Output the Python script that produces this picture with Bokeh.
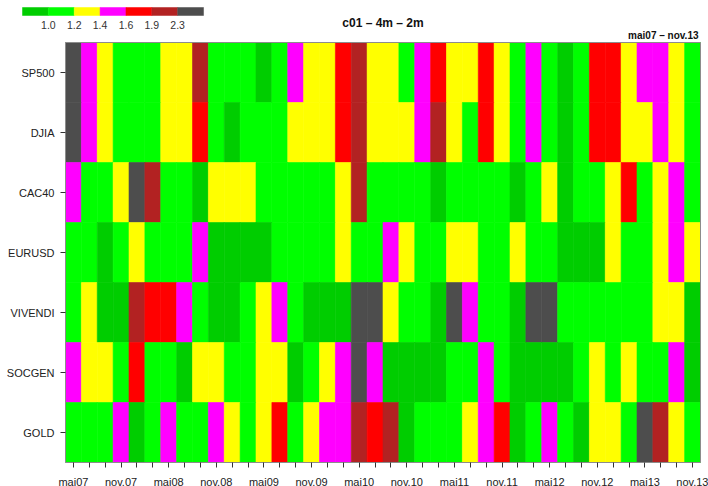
import numpy as np
from bokeh.plotting import figure
from bokeh.models import Range1d, FixedTicker, ColumnDataSource
from bokeh.core.properties import value
from bokeh.embed import file_html
from bokeh.resources import INLINE

# ---------------- data ----------------
title_text = "c01 \u2013 4m \u2013 2m"
period_text = "mai07 \u2013 nov.13"

rows = ["SP500", "DJIA", "CAC40", "EURUSD", "VIVENDI", "SOCGEN", "GOLD"]

tick_labels = ["mai07", "nov.07", "mai08", "nov.08", "mai09", "nov.09", "mai10",
               "nov.10", "mai11", "nov.11", "mai12", "nov.12", "mai13", "nov.13"]

breaks = [1.0, 1.2, 1.4, 1.6, 1.9, 2.3]
break_labels = ["1.0", "1.2", "1.4", "1.6", "1.9", "2.3"]
palette = ["#00CD00", "#00FF00", "#FFFF00", "#FF00FF", "#FF0000", "#B22222", "#4D4D4D"]

SP500 = [2.6, 1.5, 1.3, 1.1, 1.1, 1.1, 1.3, 1.3, 2.1, 1.1, 1.1, 1.1, 0.9, 1.1, 1.5, 1.3, 1.3, 1.75, 2.1, 1.3,
         1.3, 1.1, 1.5, 1.75, 1.3, 1.3, 1.75, 1.3, 1.1, 1.5, 1.1, 0.9, 1.1, 1.75, 1.75, 1.3, 1.5, 1.5, 1.3, 1.1]
DJIA = [2.6, 1.5, 1.3, 1.1, 1.1, 1.1, 1.3, 1.3, 1.75, 1.1, 0.9, 1.1, 1.1, 1.1, 1.3, 1.3, 1.3, 1.75, 2.1, 1.3,
        1.3, 1.3, 1.5, 2.1, 1.3, 1.1, 1.75, 1.3, 1.1, 1.5, 1.1, 0.9, 1.1, 1.75, 1.75, 1.3, 1.3, 1.5, 1.3, 1.1]
CAC40 = [1.5, 1.1, 1.1, 1.3, 2.6, 2.1, 1.1, 1.1, 0.9, 1.3, 1.3, 1.3, 1.1, 1.1, 1.1, 1.1, 1.1, 1.3, 2.1, 1.1,
         1.1, 1.1, 1.1, 0.9, 1.1, 1.1, 1.1, 1.1, 0.9, 1.1, 1.3, 0.9, 1.1, 1.1, 1.3, 1.75, 1.1, 1.3, 1.5, 1.1]
EURUSD = [1.1, 1.1, 0.9, 1.1, 1.3, 1.1, 1.1, 1.1, 1.5, 0.9, 0.9, 0.9, 0.9, 1.1, 1.1, 1.1, 1.1, 1.3, 1.1, 1.1,
          1.5, 1.3, 1.1, 1.1, 1.3, 1.3, 1.1, 1.1, 1.3, 1.1, 1.1, 0.9, 0.9, 0.9, 1.3, 1.1, 1.1, 1.3, 1.5, 1.3]
VIVENDI = [1.1, 1.3, 0.9, 0.9, 2.1, 1.75, 1.75, 1.5, 1.1, 0.9, 0.9, 1.1, 1.3, 1.5, 1.1, 0.9, 0.9, 0.9, 2.6, 2.6,
           1.3, 1.1, 1.1, 0.9, 2.6, 1.5, 1.1, 1.1, 0.9, 2.6, 2.6, 1.1, 1.1, 1.1, 1.1, 1.1, 1.1, 1.3, 1.3, 0.9]
SOCGEN = [1.5, 1.3, 1.3, 1.1, 1.75, 1.1, 1.1, 0.9, 1.3, 1.3, 1.1, 1.1, 1.3, 1.3, 0.9, 1.1, 1.3, 1.5, 2.6, 1.5,
          0.9, 0.9, 0.9, 0.9, 1.1, 1.1, 1.5, 1.1, 0.9, 0.9, 0.9, 0.9, 1.1, 1.3, 1.1, 1.3, 1.1, 1.1, 1.5, 0.9]
GOLD = [1.1, 1.1, 1.1, 1.5, 0.9, 1.1, 1.5, 1.1, 1.1, 1.5, 1.3, 1.1, 1.3, 1.75, 1.1, 1.3, 1.5, 1.5, 2.1, 1.75,
        2.1, 0.9, 1.1, 1.1, 1.1, 1.3, 1.5, 1.75, 0.9, 1.1, 1.5, 1.1, 0.9, 1.3, 1.3, 1.1, 2.6, 2.1, 1.3, 1.1]

series = {"SP500": SP500, "DJIA": DJIA, "CAC40": CAC40, "EURUSD": EURUSD,
          "VIVENDI": VIVENDI, "SOCGEN": SOCGEN, "GOLD": GOLD}

n_cols = len(SP500)
n_rows = len(rows)
for k, v in series.items():
    assert len(v) == n_cols, k

FONT = "Liberation Sans"

# ---------------- layout (page pixels) ----------------
W, H = 708, 486
FL, FR, FT, FB = 65.0, 700.0, 42.0, 462.0     # heatmap edges in page pixels
cw = (FR - FL) / n_cols
rh = (FB - FT) / n_rows


def xd(px):
    return (px - FL) / cw - 0.5


def yd(py):
    return (n_rows - 0.5) + (FT - py) / rh


# ---------------- heatmap cells ----------------
xs, ys, cols, vals = [], [], [], []
for j, r in enumerate(rows):
    v = np.array(series[r])
    idx = np.digitize(v, breaks)
    for i in range(n_cols):
        xs.append(i)
        ys.append(n_rows - 1 - j)
        cols.append(palette[idx[i]])
        vals.append(v[i])
src = ColumnDataSource(dict(x=xs, y=ys, color=cols, val=vals))

p = figure(width=W, height=H,
           x_range=Range1d(xd(0), xd(W)),
           y_range=Range1d(yd(H), yd(0)),
           toolbar_location=None, output_backend="svg", min_border=0)
p.rect(x="x", y="y", width=1, height=1, fill_color="color", line_color="color",
       line_width=0.6, source=src)
# box around the image
p.rect(x=[(n_cols - 1) / 2], y=[(n_rows - 1) / 2], width=n_cols, height=n_rows,
       fill_color=None, line_color="#8C8C8C", line_width=1)

p.grid.visible = False
p.outline_line_color = None
p.background_fill_color = "white"
p.border_fill_color = "white"

# x axis (sits on the bottom edge of the image)
label_pos = list(range(0, n_cols, 3))
x_over = {i: "" for i in range(n_cols)}
for pos, lab in zip(label_pos, tick_labels):
    x_over[pos] = lab
p.xaxis.fixed_location = -0.5
p.xaxis.ticker = FixedTicker(ticks=list(range(n_cols)))
p.xaxis.major_label_overrides = x_over
p.xaxis.axis_line_color = None
p.xaxis.major_tick_out = 5
p.xaxis.major_tick_in = 0
p.xaxis.minor_tick_line_color = None
p.xaxis.major_tick_line_color = "#333333"
p.xaxis.major_label_standoff = 8
p.xaxis.major_label_text_font = FONT
p.xaxis.major_label_text_font_size = "11px"
p.xaxis.major_label_text_color = "#222222"

# y axis (sits on the left edge of the image)
y_over = {n_rows - 1 - j: r for j, r in enumerate(rows)}
p.yaxis.fixed_location = -0.5
p.yaxis.ticker = FixedTicker(ticks=list(range(n_rows)))
p.yaxis.major_label_overrides = y_over
p.yaxis.axis_line_color = None
p.yaxis.major_tick_out = 5
p.yaxis.major_tick_in = 0
p.yaxis.minor_tick_line_color = None
p.yaxis.major_tick_line_color = "#333333"
p.yaxis.major_label_standoff = 6
p.yaxis.major_label_text_font = FONT
p.yaxis.major_label_text_font_size = "11px"
p.yaxis.major_label_text_color = "#222222"

# ---------------- header: title, period, colour key ----------------
p.text(x=[(n_cols - 1) / 2], y=[yd(22)], text=[title_text],
       text_font=value(FONT), text_font_size="12px", text_font_style="bold",
       text_color="#111111", text_align="center", text_baseline="middle")
p.text(x=[xd(698)], y=[yd(35)], text=[period_text],
       text_font=value(FONT), text_font_size="10px", text_font_style="bold",
       text_color="#111111", text_align="right", text_baseline="middle")

key_left, key_w, key_top, key_bot = 22.0, 25.86, 7.0, 15.0
kx = [xd(key_left + key_w * (i + 0.5)) for i in range(len(palette))]
ky = [yd((key_top + key_bot) / 2)] * len(palette)
p.rect(x=kx, y=ky, width=key_w / cw, height=(key_bot - key_top) / rh,
       fill_color=palette, line_color=palette, line_width=0.5)
lx = [xd(key_left + key_w * (i + 1)) for i in range(len(break_labels))]
p.text(x=lx, y=[yd(24)] * len(break_labels), text=break_labels,
       text_font=value(FONT), text_font_size="10.5px", text_color="#333333",
       text_align="center", text_baseline="middle")

open("out.html", "w").write(file_html(p, INLINE))
